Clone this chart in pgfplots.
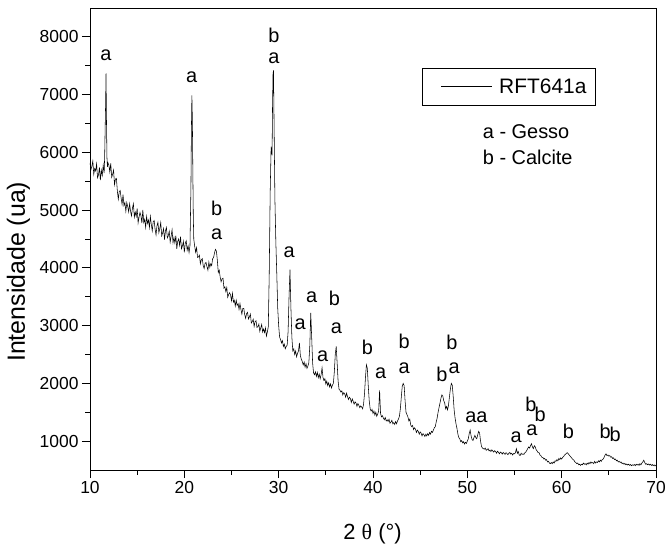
\documentclass[border=0pt]{standalone}
\usepackage{fontspec}
\setmainfont{Liberation Sans}
\newfontfamily\serifgr{Liberation Serif}
\usepackage{pgfplots}
\pgfplotsset{compat=1.18}
\begin{document}
\begin{tikzpicture}
\path[use as bounding box] (-90bp,-76bp) rectangle (576bp,470bp);
\begin{axis}[
  at={(0,0)}, anchor=south west,
  scale only axis, width=566bp, height=462bp,
  xmin=10, xmax=70, ymin=500, ymax=8500,
  xtick={10,20,...,70}, ytick={1000,2000,...,8000},
  minor x tick num=1, minor y tick num=1,
  xtick pos=bottom, ytick pos=left,
  tick align=outside,
  major tick length=8bp, minor tick length=4.5bp,
  every tick/.append style={black, line width=0.8bp},
  axis line style={line width=0.9bp},
  tick label style={font=\fontsize{17.5}{20}\selectfont},
  /pgf/number format/assume math mode=true,
  /pgf/number format/1000 sep={},
  scaled y ticks=false,
]
\addplot[black, line width=0.55bp] coordinates {
(10.0,5820) (10.1,5700) (10.2,5760) (10.3,5850) (10.4,5620) (10.5,5720) (10.6,5680) (10.7,5800) (10.8,5560) (10.9,5610)
(11.0,5740) (11.1,5520) (11.2,5690) (11.3,5600) (11.4,5780) (11.5,5640) (11.55,5900) (11.6,6350) (11.65,6800) (11.7,7370)
(11.75,6500) (11.8,5900) (11.85,5750) (11.9,5820)
(12.0,5780) (12.1,5660) (12.2,5810) (12.3,5570) (12.4,5620) (12.5,5690) (12.6,5440) (12.7,5540) (12.8,5550) (12.9,5330)
(13.0,5190) (13.1,5320) (13.2,5340) (13.3,5210) (13.4,5100) (13.5,5270) (13.6,5080) (13.7,5130) (13.8,4980) (13.9,5130)
(14.0,5060) (14.1,4970) (14.2,5110) (14.3,4980) (14.4,4900) (14.5,5035) (14.6,5110) (14.7,4880) (14.8,4965) (14.9,4890)
(15.0,5030) (15.1,4780) (15.2,4880) (15.3,4960) (15.4,4905) (15.5,4775) (15.6,5005) (15.7,4785) (15.8,4840) (15.9,4700)
(16.0,4890) (16.1,4770) (16.2,4830) (16.3,4700) (16.4,4890) (16.5,4750) (16.6,4640) (16.7,4800) (16.8,4820) (16.9,4670)
(17.0,4570) (17.1,4730) (17.2,4790) (17.3,4610) (17.4,4680) (17.5,4785) (17.6,4555) (17.7,4605) (17.8,4680) (17.9,4490)
(18.0,4640) (18.1,4700) (18.2,4520) (18.3,4555) (18.4,4635) (18.5,4445) (18.6,4550) (18.7,4660) (18.8,4435) (18.9,4525)
(19.0,4430) (19.1,4560) (19.2,4330) (19.3,4460) (19.4,4500) (19.5,4390) (19.6,4540) (19.7,4330) (19.8,4380) (19.9,4460)
(20.0,4270) (20.1,4425) (20.2,4470) (20.3,4305) (20.4,4380) (20.5,4265) (20.6,4390)
(20.7,5400) (20.75,6400) (20.8,6985) (20.85,6600) (20.9,5700) (20.95,4900) (21.0,4500)
(21.1,4370) (21.2,4270) (21.3,4350) (21.4,4180) (21.5,4190) (21.6,4220) (21.7,4070) (21.8,4140) (21.9,4160) (22.0,4040)
(22.1,3990) (22.2,4080) (22.3,4095) (22.4,4020) (22.5,3960) (22.6,4100) (22.7,4010) (22.8,4070) (22.9,4040) (23.0,4160)
(23.1,4180) (23.2,4260) (23.3,4320) (23.4,4290) (23.5,4130) (23.6,3920) (23.7,3960) (23.8,3840) (23.9,3760) (24.0,3810)
(24.1,3820) (24.2,3650) (24.3,3670) (24.4,3590) (24.5,3660) (24.6,3490) (24.7,3540) (24.8,3570) (24.9,3530) (25.0,3430)
(25.1,3560) (25.2,3410) (25.3,3440) (25.4,3340) (25.5,3440) (25.6,3350) (25.7,3380) (25.8,3280) (25.9,3380) (26.0,3280)
(26.1,3200) (26.2,3300) (26.3,3300) (26.4,3190) (26.5,3125) (26.6,3210) (26.7,3230) (26.8,3115) (26.9,3150) (27.0,3200)
(27.1,3045) (27.2,3070) (27.3,3110) (27.4,2985) (27.5,3070) (27.6,3085) (27.7,2970) (27.8,2980) (27.9,3025) (28.0,2900)
(28.1,2960) (28.2,3020) (28.3,2890) (28.4,2940) (28.5,2880) (28.6,2960) (28.7,2820) (28.8,2890) (28.9,2980) (29.0,3900)
(29.1,5300) (29.2,6100) (29.3,5950) (29.35,6800) (29.4,7350) (29.45,7420) (29.5,6700) (29.6,5200) (29.7,4450) (29.8,3900)
(29.9,3300) (30.0,3000) (30.1,2800) (30.2,2760) (30.3,2700) (30.4,2740) (30.5,2640) (30.6,2680) (30.7,2600) (30.8,2640)
(30.9,2660) (31.0,2900) (31.1,3500) (31.2,3970) (31.3,3300) (31.4,2800) (31.5,2560) (31.6,2600) (31.7,2500) (31.8,2560)
(31.9,2460) (32.0,2520) (32.1,2560) (32.2,2700) (32.3,2480) (32.4,2420) (32.5,2380) (32.6,2320) (32.7,2370) (32.8,2280)
(32.9,2340) (33.0,2260) (33.1,2300) (33.2,2360) (33.3,2650) (33.4,3220) (33.5,2800) (33.6,2350) (33.7,2180) (33.8,2150)
(33.9,2200) (34.0,2120) (34.1,2190) (34.2,2100) (34.3,2160) (34.4,2080) (34.5,2150) (34.6,2270) (34.7,2100) (34.8,2050)
(34.9,2080) (35.0,1990) (35.1,2040) (35.2,1960) (35.3,2010) (35.4,1940) (35.5,1990) (35.6,1920) (35.7,1970) (35.8,2000)
(35.9,2200) (36.0,2500) (36.1,2640) (36.2,2350) (36.3,2040) (36.4,1900) (36.5,1880) (36.6,1850) (36.7,1870) (36.8,1800)
(36.9,1840) (37.0,1820) (37.1,1760) (37.2,1830) (37.3,1770) (37.4,1720) (37.5,1760) (37.6,1740) (37.7,1670) (37.8,1730)
(37.9,1690) (38.0,1640) (38.1,1680) (38.2,1660) (38.3,1600) (38.4,1650) (38.5,1620) (38.6,1580) (38.7,1610) (38.8,1590)
(38.9,1560) (39.0,1640) (39.1,1820) (39.2,2100) (39.3,2320) (39.4,2260) (39.5,1950) (39.6,1700) (39.7,1560) (39.8,1520)
(39.9,1550) (40.0,1480) (40.1,1520) (40.2,1450) (40.3,1500) (40.4,1430) (40.5,1470) (40.6,1520) (40.7,1880) (40.8,1480)
(40.9,1420) (41.0,1440) (41.1,1400) (41.2,1370) (41.3,1410) (41.4,1350) (41.5,1370) (41.6,1340) (41.7,1380) (41.8,1310)
(41.9,1330) (42.0,1360) (42.1,1300) (42.2,1320) (42.3,1290) (42.4,1340) (42.5,1300) (42.6,1350) (42.7,1380) (42.8,1430)
(42.9,1560) (43.0,1760) (43.1,1950) (43.2,2000) (43.3,1960) (43.4,1700) (43.5,1500) (43.6,1460) (43.7,1420) (43.8,1350)
(43.9,1380) (44.0,1280) (44.1,1250) (44.2,1270) (44.3,1200) (44.4,1230) (44.5,1210) (44.6,1150) (44.7,1190) (44.8,1170)
(44.9,1120) (45.0,1160) (45.1,1140) (45.2,1090) (45.3,1130) (45.4,1110) (45.5,1080) (45.6,1120) (45.7,1090) (45.8,1130)
(45.9,1100) (46.0,1150) (46.1,1120) (46.2,1170) (46.3,1150) (46.4,1190) (46.5,1230) (46.6,1250) (46.7,1330) (46.8,1400)
(46.9,1500) (47.0,1580) (47.1,1660) (47.2,1740) (47.3,1800) (47.4,1780) (47.5,1700) (47.6,1660) (47.7,1560) (47.8,1600)
(47.9,1540) (48.0,1620) (48.1,1760) (48.2,1900) (48.3,2000) (48.4,1970) (48.5,1780) (48.6,1540) (48.7,1400) (48.8,1300)
(48.9,1220) (49.0,1120) (49.1,1060) (49.2,1040) (49.3,990) (49.4,1010) (49.5,970) (49.6,990) (49.7,950) (49.8,980)
(49.9,960) (50.0,1000) (50.1,1040) (50.2,1130) (50.3,1190) (50.4,1090) (50.5,1030) (50.6,1010) (50.7,1060) (50.8,1100)
(50.9,1060) (51.0,1040) (51.1,1110) (51.2,1170) (51.3,1140) (51.4,1000) (51.5,910) (51.6,880) (51.7,870) (51.8,860)
(51.9,880) (52.0,840) (52.1,855) (52.2,870) (52.3,830) (52.4,845) (52.5,820) (52.6,850) (52.7,830) (52.8,810)
(52.9,835) (53.0,820) (53.1,790) (53.2,825) (53.3,805) (53.4,780) (53.5,810) (53.6,800) (53.7,775) (53.8,805)
(53.9,790) (54.0,770) (54.1,800) (54.2,785) (54.3,765) (54.4,790) (54.5,805) (54.6,775) (54.7,790) (54.8,760)
(54.9,785) (55.0,780) (55.1,800) (55.2,870) (55.3,790) (55.4,820) (55.5,760) (55.6,750) (55.7,790) (55.8,770)
(55.9,780) (56.0,770) (56.1,800) (56.2,810) (56.3,840) (56.4,870) (56.5,900) (56.6,880) (56.7,920) (56.8,955)
(56.9,900) (57.0,870) (57.1,920) (57.2,900) (57.3,850) (57.4,830) (57.5,800) (57.6,800) (57.7,760) (57.8,750)
(57.9,720) (58.0,720) (58.1,690) (58.2,700) (58.3,670) (58.4,680) (58.5,640) (58.6,650) (58.7,620) (58.8,610)
(58.9,630) (59.0,610) (59.1,640) (59.2,620) (59.3,660) (59.4,650) (59.5,680) (59.6,660) (59.7,700) (59.8,680)
(59.9,710) (60.0,690) (60.1,720) (60.2,730) (60.3,760) (60.4,770) (60.5,790) (60.6,800) (60.7,780) (60.8,760)
(60.9,740) (61.0,720) (61.1,700) (61.2,680) (61.3,670) (61.4,640) (61.5,630) (61.6,610) (61.7,620) (61.8,590)
(61.9,600) (62.0,580) (62.1,600) (62.2,590) (62.3,620) (62.4,600) (62.5,610) (62.6,590) (62.7,620) (62.8,600)
(62.9,630) (63.0,610) (63.1,640) (63.2,620) (63.3,630) (63.4,610) (63.5,650) (63.6,620) (63.7,640) (63.8,630)
(63.9,660) (64.0,640) (64.1,670) (64.2,650) (64.3,680) (64.4,690) (64.5,720) (64.6,760) (64.7,780) (64.8,750)
(64.9,760) (65.0,740) (65.1,750) (65.2,720) (65.3,730) (65.4,700) (65.5,710) (65.6,680) (65.7,690) (65.8,660)
(65.9,670) (66.0,640) (66.1,650) (66.2,630) (66.3,640) (66.4,610) (66.5,620) (66.6,600) (66.7,615) (66.8,590)
(66.9,605) (67.0,585) (67.1,600) (67.2,580) (67.3,595) (67.4,575) (67.5,590) (67.6,580) (67.7,595) (67.8,575)
(67.9,600) (68.0,585) (68.1,600) (68.2,580) (68.3,610) (68.4,590) (68.5,620) (68.6,640) (68.7,670) (68.8,630)
(68.9,600) (69.0,610) (69.1,590) (69.2,605) (69.3,585) (69.4,600) (69.5,580) (69.6,595) (69.7,575) (69.8,590)
(69.9,570) (70.0,585)
};
\begin{scope}[every node/.style={font=\fontsize{20}{24}\selectfont, anchor=base, inner sep=0pt}]
\node at (axis cs:11.7,7595) {a};
\node at (axis cs:20.78,7217) {a};
\node at (axis cs:23.43,4899) {b};
\node at (axis cs:23.43,4494) {a};
\node at (axis cs:29.5,7896) {b};
\node at (axis cs:29.5,7537) {a};
\node at (axis cs:31.1,4174) {a};
\node at (axis cs:32.27,2929) {a};
\node at (axis cs:33.5,3392) {a};
\node at (axis cs:34.67,2378) {a};
\node at (axis cs:35.9,3352) {b};
\node at (axis cs:36.12,2870) {a};
\node at (axis cs:39.4,2505) {b};
\node at (axis cs:40.82,2087) {a};
\node at (axis cs:43.3,2609) {b};
\node at (axis cs:43.3,2174) {a};
\node at (axis cs:47.3,2030) {b};
\node at (axis cs:48.36,2581) {b};
\node at (axis cs:48.6,2174) {a};
\node at (axis cs:50.37,1322) {a};
\node at (axis cs:51.55,1322) {a};
\node at (axis cs:55.17,975) {a};
\node at (axis cs:56.84,1103) {a};
\node at (axis cs:56.73,1508) {b};
\node at (axis cs:57.72,1334) {b};
\node at (axis cs:60.72,1044) {b};
\node at (axis cs:64.6,1044) {b};
\node at (axis cs:65.67,986) {b};
\end{scope}
\end{axis}
% legend box
\draw[black, line width=0.8bp, fill=white] (332bp,365bp) rectangle (505bp,402bp);
\draw[black, line width=0.55bp] (351bp,384bp) -- (402bp,384bp);
\node[anchor=base west, font=\fontsize{21}{25}\selectfont, inner sep=0pt] at (409bp,376.5bp) {RFT641a};
\node[anchor=base west, font=\fontsize{20}{24}\selectfont, inner sep=0pt] at (392.7bp,331.7bp) {a - Gesso};
\node[anchor=base west, font=\fontsize{20}{24}\selectfont, inner sep=0pt] at (392.7bp,305bp) {b - Calcite};
\node[anchor=base, font=\fontsize{22}{26}\selectfont, inner sep=0pt] at (282.5bp,-69bp) {2 {\serifgr θ} (°)};
\node[rotate=90, anchor=base west, font=\fontsize{25}{29}\selectfont, inner sep=0pt] at (-65bp,108bp) {Intensidade (ua)};
\end{tikzpicture}
\end{document}
